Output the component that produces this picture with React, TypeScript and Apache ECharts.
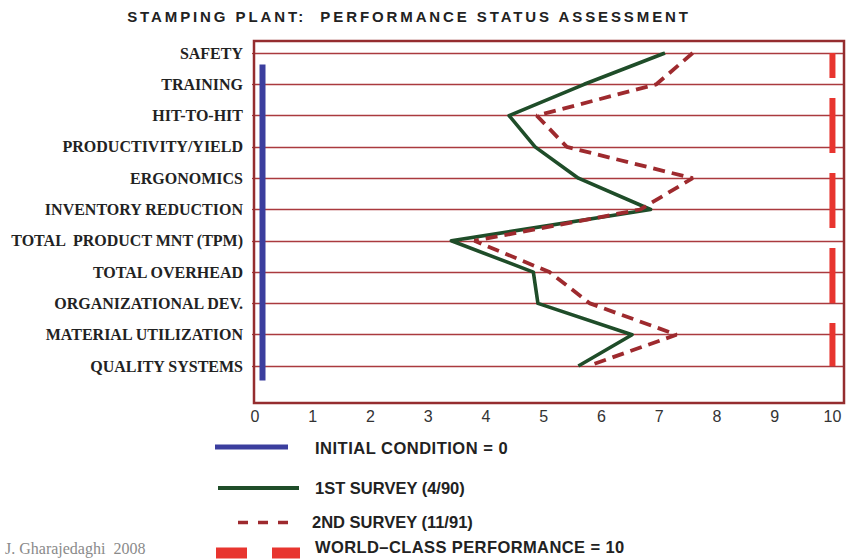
import React, { useEffect, useRef } from 'react';
import * as echarts from 'echarts';

// ---- data ----
const categories: string[] = [
  'SAFETY',
  'TRAINING',
  'HIT-TO-HIT',
  'PRODUCTIVITY/YIELD',
  'ERGONOMICS',
  'INVENTORY REDUCTION',
  'TOTAL  PRODUCT MNT (TPM)',
  'TOTAL OVERHEAD',
  'ORGANIZATIONAL DEV.',
  'MATERIAL UTILIZATION',
  'QUALITY SYSTEMS',
];
const firstSurvey: number[] = [7.1, 5.7, 4.4, 4.85, 5.6, 6.85, 3.4, 4.82, 4.9, 6.53, 5.6];
const secondSurvey: number[] = [7.58, 6.95, 4.88, 5.4, 7.58, 6.67, 3.8, 5.1, 5.8, 7.3, 5.77];
const initialConditionX: number = 0.13;
const initialConditionSpan: number[] = [0.37, 10.46];
const worldClassX: number = 10;
const worldClassSpan: number[] = [0, 10];
const xTickLabels: number[] = [0, 1, 2, 3, 4, 5, 6, 7, 8, 9, 10];

const titleText = 'STAMPING PLANT:  PERFORMANCE STATUS ASSESSMENT';
const legendTexts: string[] = [
  'INITIAL CONDITION = 0',
  '1ST SURVEY (4/90)',
  '2ND SURVEY (11/91)',
  'WORLD\u2013CLASS PERFORMANCE = 10',
];
const creditText = 'J. Gharajedaghi  2008';

const BLUE = '#3b3e9e';
const GREEN = '#1f4d29';
const DARKRED = '#9e2a2e';
const RED = '#e8352f';
const GRIDLINE = '#aa3a3e';
const BOX = '#952d2f';

const spacing: Record<string, number> = {
  [titleText]: 2.9,
  [legendTexts[0]]: 0.5,
  [legendTexts[3]]: 0.4,
};

export default function App() {
  const ref = useRef<HTMLDivElement>(null);

  useEffect(() => {
    if (!ref.current) return;
    const chart = echarts.init(ref.current, undefined, { renderer: 'svg' });

    const legendFont = { fontFamily: '"Liberation Sans", Arial, sans-serif', fontWeight: 'bold' as const, fontSize: 16.5 };

    const option: any = {
      animation: false,
      backgroundColor: '#ffffff',
      grid: { left: 255, right: 4, top: 53, height: 313 },
      xAxis: {
        type: 'value',
        min: 0,
        max: 10.2,
        interval: 1,
        axisLine: { show: false },
        axisTick: { show: false },
        splitLine: { show: false },
        axisLabel: {
          margin: 42,
          fontFamily: '"Liberation Sans", Arial, sans-serif',
          fontSize: 16,
          color: '#333',
          formatter: (v: number) => (xTickLabels.includes(v) ? String(v) : ''),
        },
      },
      yAxis: {
        type: 'value',
        inverse: true,
        min: 0,
        max: categories.length - 1,
        interval: 1,
        axisLine: { show: false },
        axisTick: { show: true, length: 3, lineStyle: { color: GRIDLINE, width: 1.2 } },
        splitLine: { show: true, lineStyle: { color: GRIDLINE, width: 1.3 } },
        axisLabel: {
          margin: 12,
          fontFamily: '"Liberation Serif", "Times New Roman", serif',
          fontWeight: 'bold',
          fontSize: 16,
          color: '#222',
          formatter: (v: number) => categories[Math.round(v)] ?? '',
        },
      },
      series: [
        {
          name: 'INITIAL CONDITION',
          type: 'line',
          symbol: 'none',
          clip: false,
          data: initialConditionSpan.map((y) => [initialConditionX, y]),
          lineStyle: { color: BLUE, width: 6, cap: 'butt' },
          z: 3,
        },
        {
          name: '1ST SURVEY',
          type: 'line',
          symbol: 'none',
          data: firstSurvey.map((v, i) => [v, i]),
          lineStyle: { color: GREEN, width: 3.6, join: 'round' },
          z: 4,
        },
        {
          name: '2ND SURVEY',
          type: 'line',
          symbol: 'none',
          data: secondSurvey.map((v, i) => [v, i]),
          lineStyle: { color: DARKRED, width: 3.8, type: [12, 7] },
          z: 5,
        },
        {
          name: 'WORLD-CLASS',
          type: 'line',
          symbol: 'none',
          data: worldClassSpan.map((y) => [worldClassX, y]),
          lineStyle: { color: RED, width: 6, type: [55, 20], dashOffset: 30, cap: 'butt' },
          z: 3,
        },
      ],
      graphic: [
        {
          type: 'rect',
          shape: { x: 254, y: 41, width: 590, height: 362 },
          style: { fill: 'none', stroke: BOX, lineWidth: 2.5 },
          z: 10,
        },
        {
          type: 'text',
          x: 409,
          y: 16,
          style: {
            text: titleText,
            fill: '#222',
            fontFamily: '"Liberation Sans", Arial, sans-serif',
            fontWeight: 'bold',
            fontSize: 15,
            textAlign: 'center',
            textVerticalAlign: 'middle',
            align: 'center',
            verticalAlign: 'middle',
          },
        },
        // legend
        { type: 'line', shape: { x1: 215, y1: 447, x2: 288, y2: 447 }, style: { stroke: BLUE, lineWidth: 5 } },
        { type: 'line', shape: { x1: 218, y1: 488, x2: 299, y2: 488 }, style: { stroke: GREEN, lineWidth: 4 } },
        { type: 'line', shape: { x1: 238, y1: 522.5, x2: 288, y2: 522.5 }, style: { stroke: DARKRED, lineWidth: 3.5, lineDash: [10, 10] } },
        { type: 'line', shape: { x1: 216, y1: 553, x2: 300, y2: 553 }, style: { stroke: RED, lineWidth: 11, lineDash: [31, 25] } },
        ...[
          { t: legendTexts[0], x: 315, y: 448 },
          { t: legendTexts[1], x: 315, y: 488 },
          { t: legendTexts[2], x: 312, y: 522 },
          { t: legendTexts[3], x: 315, y: 547 },
        ].map((d) => ({
          type: 'text',
          x: d.x,
          y: d.y,
          style: {
            text: d.t,
            fill: '#222',
            ...legendFont,
            textAlign: 'left',
            textVerticalAlign: 'middle',
            align: 'left',
            verticalAlign: 'middle',
          },
        })),
        {
          type: 'text',
          x: 5,
          y: 548,
          style: {
            text: creditText,
            fill: '#8a8a8a',
            fontFamily: '"Liberation Serif", "Times New Roman", serif',
            fontSize: 16,
            textAlign: 'left',
            textVerticalAlign: 'middle',
            align: 'left',
            verticalAlign: 'middle',
          },
        },
      ],
    };

    chart.setOption(option);

    const applySpacing = () => {
      const root = ref.current;
      if (!root) return;
      root.querySelectorAll('text').forEach((t) => {
        const s = t.textContent || '';
        const sp = spacing[s];
        if (sp != null) t.setAttribute('letter-spacing', String(sp));
      });
    };
    applySpacing();
    chart.on('finished', applySpacing);

    return () => {
      chart.dispose();
    };
  }, []);

  return (
    <div
      ref={ref}
      style={{ position: 'absolute', left: 0, top: 0, width: 848, height: 559, background: '#fff' }}
    />
  );
}
